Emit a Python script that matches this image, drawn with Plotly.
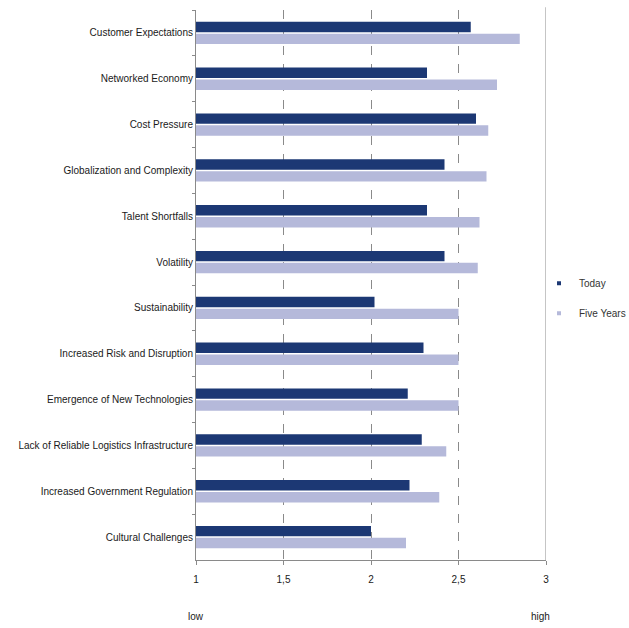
import plotly.graph_objects as go

categories = ["Customer Expectations", "Networked Economy", "Cost Pressure",
              "Globalization and Complexity", "Talent Shortfalls", "Volatility",
              "Sustainability", "Increased Risk and Disruption",
              "Emergence of New Technologies", "Lack of Reliable Logistics Infrastructure",
              "Increased Government Regulation", "Cultural Challenges"]
today = [2.57, 2.32, 2.60, 2.42, 2.32, 2.42, 2.02, 2.30, 2.21, 2.29, 2.22, 2.00]
five_years = [2.85, 2.72, 2.67, 2.66, 2.62, 2.61, 2.50, 2.50, 2.50, 2.43, 2.39, 2.20]
tick_vals = [1, 1.5, 2, 2.5, 3]
tick_text = ["1", "1,5", "2", "2,5", "3"]

FONT = "Liberation Sans, Arial, sans-serif"
DARK = "#1c3874"
LIGHT = "#b5b9da"

fig = go.Figure()
fig.add_trace(go.Bar(y=categories, x=today, orientation="h", name="Today",
                     marker=dict(color=DARK, line=dict(width=0)), showlegend=False))
fig.add_trace(go.Bar(y=categories, x=five_years, orientation="h", name="Five Years",
                     marker=dict(color=LIGHT, line=dict(width=0)), showlegend=False))
# legend entries with small square markers
fig.add_trace(go.Scatter(x=[None], y=[None], mode="markers", name="Today",
                         legendgroup="a",
                         marker=dict(symbol="square", size=4, color=DARK)))
fig.add_trace(go.Scatter(x=[None], y=[None], mode="markers", name="Five Years",
                         legendgroup="b",
                         marker=dict(symbol="square", size=4, color=LIGHT)))

fig.update_layout(
    width=629, height=628,
    margin=dict(l=196, r=83, t=10, b=68, autoexpand=False),
    paper_bgcolor="white", plot_bgcolor="white",
    barmode="group", bargap=0.48, bargroupgap=0.12,
    font=dict(family=FONT, size=10, color="#1a1a1a"),
    showlegend=True,
    legend=dict(x=0.98, y=0.476, xanchor="left", yanchor="middle",
                font=dict(size=10, color="#333"), itemwidth=30,
                tracegroupgap=11, bgcolor="rgba(0,0,0,0)"),
    xaxis=dict(range=[1, 3], tickvals=tick_vals, ticktext=tick_text,
               showgrid=True, gridcolor="#8a8a8a", griddash="dash", gridwidth=1,
               showline=True, linecolor="#8a8a8a", linewidth=1,
               ticks="outside", ticklen=4, tickcolor="#8a8a8a", ticklabelstandoff=6,
               zeroline=False, tickfont=dict(size=10), automargin=False),
    yaxis=dict(autorange="reversed", showline=True, linecolor="#8a8a8a", linewidth=1,
               ticks="outside", tickson="boundaries", ticklen=3, tickcolor="#8a8a8a",
               showgrid=False, tickfont=dict(size=10), automargin=False),
    annotations=[
        dict(text="low", x=0, y=-0.102, xref="paper", yref="paper",
             showarrow=False, xanchor="center", yanchor="middle", font=dict(size=10)),
        dict(text="high", x=0.985, y=-0.102, xref="paper", yref="paper",
             showarrow=False, xanchor="center", yanchor="middle", font=dict(size=10)),
    ],
    shapes=[dict(type="line", xref="x", yref="paper", x0=3, x1=3, y0=0, y1=1.005,
                 line=dict(color="#8a8a8a", width=1))],
)

fig.write_html("out.html")
